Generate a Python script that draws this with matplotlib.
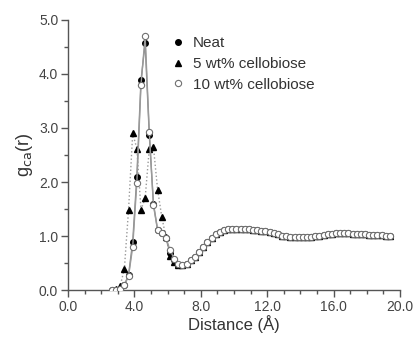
import matplotlib
matplotlib.use("Agg")
import matplotlib.pyplot as plt
from matplotlib.ticker import MultipleLocator, FormatStrFormatter

plt.rcParams['font.family'] = ['Liberation Sans', 'DejaVu Sans']

distance = [2.65, 2.9, 3.15, 3.4, 3.65, 3.9, 4.15, 4.4, 4.65, 4.9,
            5.15, 5.4, 5.65, 5.9, 6.15, 6.4, 6.65, 6.9, 7.15, 7.4,
            7.65, 7.9, 8.15, 8.4, 8.65, 8.9, 9.15, 9.4, 9.65, 9.9,
            10.15, 10.4, 10.65, 10.9, 11.15, 11.4, 11.65, 11.9, 12.15, 12.4,
            12.65, 12.9, 13.15, 13.4, 13.65, 13.9, 14.15, 14.4, 14.65, 14.9,
            15.15, 15.4, 15.65, 15.9, 16.15, 16.4, 16.65, 16.9, 17.15, 17.4,
            17.65, 17.9, 18.15, 18.4, 18.65, 18.9, 19.15, 19.4]

neat = [0.00, 0.01, 0.03, 0.10, 0.28, 0.89, 2.10, 3.88, 4.57, 2.87,
        1.60, 1.12, 1.05, 0.97, 0.68, 0.56, 0.47, 0.46, 0.49, 0.55,
        0.62, 0.70, 0.80, 0.89, 0.97, 1.03, 1.08, 1.11, 1.13, 1.14,
        1.14, 1.14, 1.13, 1.13, 1.12, 1.11, 1.10, 1.09, 1.07, 1.05,
        1.03, 1.01, 1.00, 0.99, 0.98, 0.98, 0.98, 0.99, 0.99, 1.00,
        1.01, 1.02, 1.03, 1.04, 1.05, 1.05, 1.05, 1.05, 1.04, 1.04,
        1.03, 1.03, 1.02, 1.02, 1.02, 1.02, 1.01, 1.01]

wt5 = [0.00, 0.02, 0.08, 0.40, 1.49, 2.90, 2.62, 1.49, 1.70, 2.62,
       2.65, 1.86, 1.36, 0.98, 0.64, 0.53, 0.47, 0.46, 0.49, 0.55,
       0.62, 0.70, 0.80, 0.89, 0.97, 1.03, 1.08, 1.11, 1.13, 1.14,
       1.14, 1.14, 1.13, 1.13, 1.12, 1.11, 1.10, 1.09, 1.07, 1.05,
       1.03, 1.01, 1.00, 0.99, 0.98, 0.98, 0.98, 0.99, 0.99, 1.00,
       1.01, 1.02, 1.03, 1.04, 1.05, 1.05, 1.05, 1.05, 1.04, 1.04,
       1.03, 1.03, 1.02, 1.02, 1.02, 1.02, 1.01, 1.01]

wt10 = [0.00, 0.01, 0.03, 0.09, 0.26, 0.80, 1.99, 3.80, 4.70, 2.93,
        1.57, 1.11, 1.06, 0.97, 0.74, 0.58, 0.48, 0.46, 0.49, 0.55,
        0.62, 0.70, 0.80, 0.89, 0.97, 1.03, 1.08, 1.11, 1.13, 1.14,
        1.14, 1.14, 1.13, 1.13, 1.12, 1.11, 1.10, 1.09, 1.07, 1.05,
        1.03, 1.01, 1.00, 0.99, 0.98, 0.98, 0.98, 0.99, 0.99, 1.00,
        1.01, 1.02, 1.03, 1.04, 1.05, 1.05, 1.05, 1.05, 1.04, 1.04,
        1.03, 1.03, 1.02, 1.02, 1.02, 1.02, 1.01, 1.01]

fig = plt.figure(figsize=(4.17, 3.37), dpi=100)
ax = fig.add_axes([0.163, 0.139, 0.796, 0.802])

ax.plot(distance, neat, color='#8a8a8a', lw=1.0, ls='-', marker='o',
        ms=4, mfc='black', mec='black', label='Neat', zorder=3)
ax.plot(distance, wt5, color='#9a9a9a', lw=1.0, ls=':', marker='^',
        ms=4.5, mfc='black', mec='black', label='5 wt% cellobiose', zorder=2)
ax.plot(distance, wt10, color='#9a9a9a', lw=1.0, ls='-', marker='o',
        ms=4.5, mfc='white', mec='#707070', mew=0.8, label='10 wt% cellobiose', zorder=4)

ax.set_xlim(0, 20)
ax.set_ylim(0, 5)
ax.xaxis.set_major_locator(MultipleLocator(4))
ax.xaxis.set_minor_locator(MultipleLocator(1))
ax.yaxis.set_major_locator(MultipleLocator(1))
ax.yaxis.set_minor_locator(MultipleLocator(0.5))
ax.xaxis.set_major_formatter(FormatStrFormatter('%.1f'))
ax.yaxis.set_major_formatter(FormatStrFormatter('%.1f'))

for s in ['top', 'right']:
    ax.spines[s].set_visible(False)
for s in ['left', 'bottom']:
    ax.spines[s].set_color('#555555')
    ax.spines[s].set_linewidth(1.0)
ax.tick_params(which='major', direction='out', length=5, width=1, color='#555555',
               labelsize=10, labelcolor='#444444', pad=2)
ax.tick_params(which='minor', direction='out', length=3, width=1, color='#555555')

ax.set_xlabel('Distance (Å)', fontsize=12, color='#333333', labelpad=1)
ax.set_ylabel('g$_{\\mathrm{ca}}$(r)', fontsize=13, color='#333333')
ax.yaxis.set_label_coords(-0.10, 0.5)

leg = ax.legend(loc='upper left', bbox_to_anchor=(0.275, 0.98), frameon=False,
                fontsize=11, handlelength=1.0, handletextpad=0.5,
                labelspacing=0.45, borderpad=0.2)
for t in leg.get_texts():
    t.set_color('#333333')
for h in leg.legend_handles:
    h.set_linestyle('None')

fig.savefig('out.png', dpi=100)
